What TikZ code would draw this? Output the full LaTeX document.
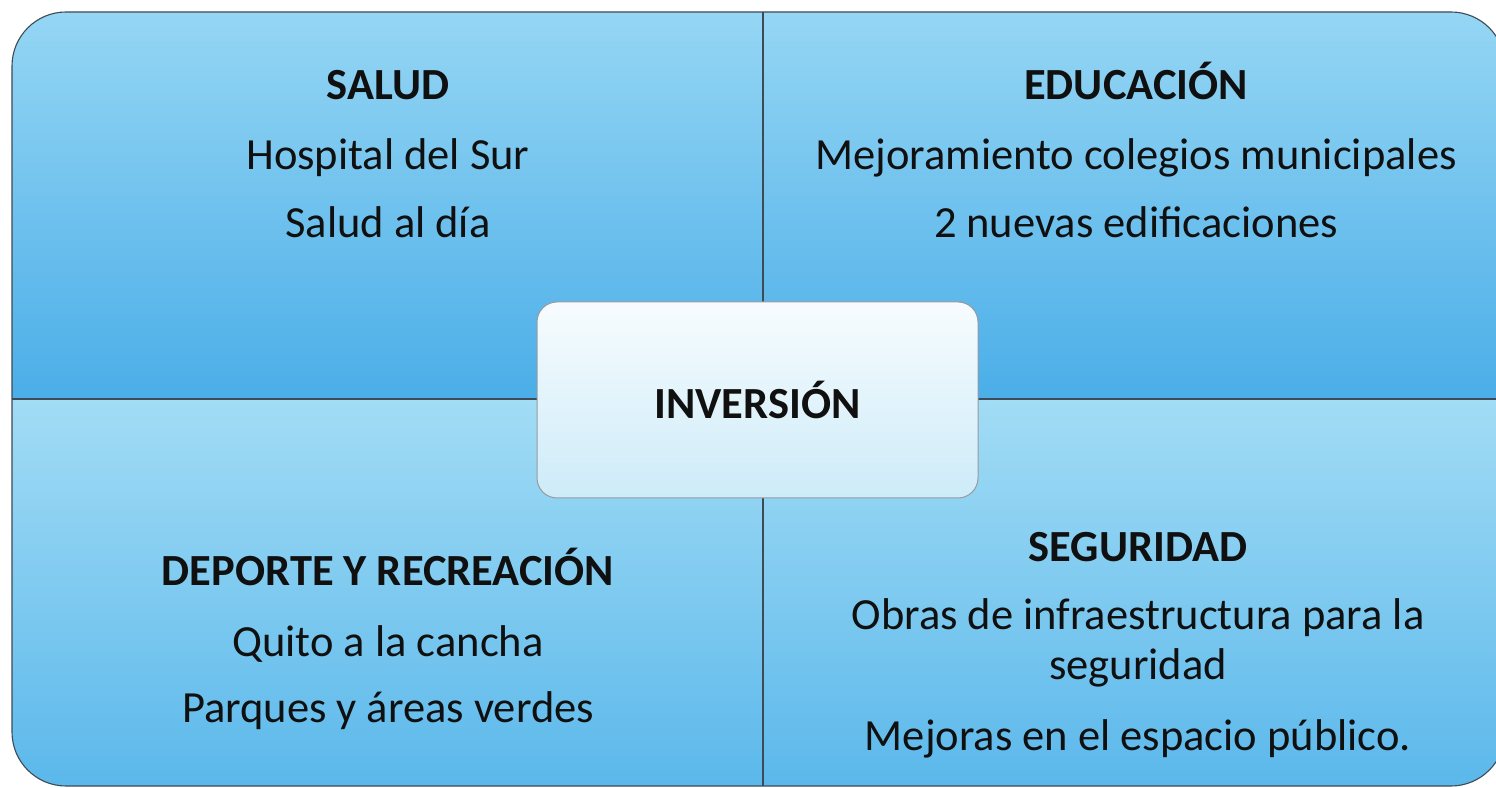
\documentclass[tikz,border=0pt]{standalone}
\usepackage{fontspec}
\setmainfont{Carlito}
\usetikzlibrary{positioning}
\definecolor{skytop}{HTML}{95D6F4}
\definecolor{skybot}{HTML}{4BAEE8}
\definecolor{lowtop}{HTML}{A2DCF5}
\definecolor{lowbot}{HTML}{5BB8EB}
\definecolor{coretop}{HTML}{F7FCFE}
\definecolor{corebot}{HTML}{CDEBF8}
\definecolor{rim}{HTML}{3E4A55}
\definecolor{ink}{HTML}{101010}
\tikzset{
  upperq/.style  = {top color=skytop, bottom color=skybot},
  lowerq/.style  = {top color=lowtop, bottom color=lowbot},
  rimline/.style = {draw=rim, line width=1.1pt},
  core/.style    = {draw=rim!55, line width=1pt, rounded corners=20pt, top color=coretop, bottom color=corebot,
                    minimum width=441pt, minimum height=196pt, inner sep=0pt,
                    font=\fontsize{44.5}{51}\selectfont\bfseries\color{ink}},
  head/.style    = {font=\fontsize{44.5}{51}\selectfont\bfseries\color{ink}, anchor=base, inner sep=0pt, outer sep=0pt},
  item/.style    = {font=\fontsize{44.5}{51}\selectfont\color{ink}, anchor=base, inner sep=0pt, outer sep=0pt},
}

\begin{document}
\begin{tikzpicture}[x=1pt,y=1pt]
\path[use as bounding box] (0,0) rectangle (1496,787);

% ---- the four fields ----------------------------------------------------
\begin{scope}
  \clip[rounded corners=54pt] (12,1) rectangle (1505,775);
  \shade[upperq] (12,388) rectangle (763,775);
  \shade[upperq] (763,388) rectangle (1505,775);
  \shade[lowerq] (12,1) rectangle (763,388);
  \shade[lowerq] (763,1) rectangle (1505,388);
\end{scope}
\draw[rimline] (763,1) -- (763,775);
\draw[rimline] (12,388) -- (1505,388);
\draw[rimline, rounded corners=54pt] (12,1) rectangle (1505,775);

% ---- the headings and their items ---------------------------------------
\foreach \name/\x/\y/\txt in {%
  salud/388/687/{SALUD},
  educ/1136/687/{EDUCACIÓN},
  deporte/388/201/{DEPORTE Y RECREACIÓN},
  segur/1138/225/{SEGURIDAD}}{%
  \node[head] (\name) at (\x,\y) {\txt};
}
\foreach \name/\x/\y/\txt in {%
  hospital/388/617/{Hospital del Sur},
  aldia/388/549/{Salud al día},
  colegios/1136/617/{Mejoramiento colegios municipales},
  edific/1136/549/{2 nuevas edificaciones},
  cancha/388/130/{Quito a la cancha},
  parques/388/64/{Parques y áreas verdes},
  obras/1138/157/{Obras de infraestructura para la},
  obrasii/1138/107/{seguridad},
  espacio/1138/37/{Mejoras en el espacio público.}}{%
  \node[item] (\name) at (\x,\y) {\txt};
}

% ---- the centre ---------------------------------------------------------
\node[core] (inversion) at (757.5,387) {INVERSIÓN};

\end{tikzpicture}
\end{document}
